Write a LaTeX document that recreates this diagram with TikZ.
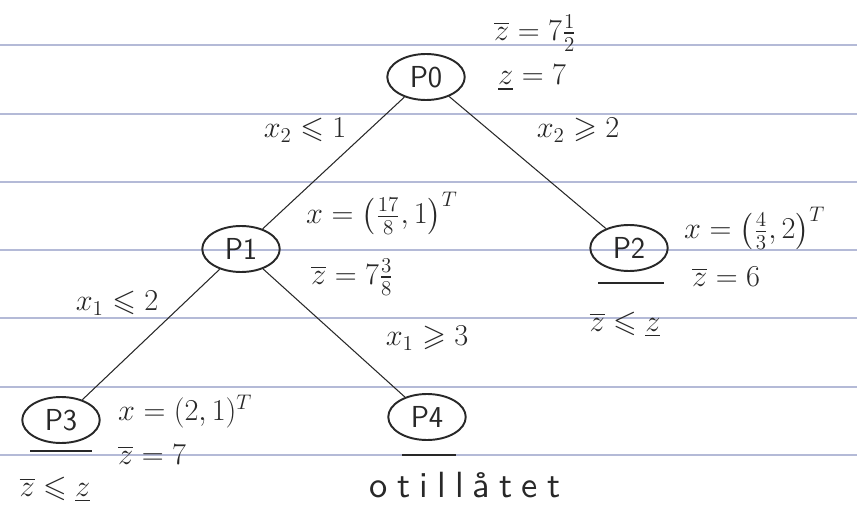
\documentclass[tikz,border=0pt]{standalone}
\usepackage{amsmath, amssymb}
\usepackage{fontspec}
\newfontfamily\spacedsans{lmsans10-regular.otf}[LetterSpace=25]
\usepackage{tikz}
\usetikzlibrary{shapes.geometric,calc}
\usepackage{xcolor}
\definecolor{rulegray}{RGB}{180,186,215}
\definecolor{pencil}{RGB}{40,40,40}

\begin{document}
\begin{tikzpicture}[x=0.02cm, y=-0.02cm, font=\LARGE, text=pencil,
    pnode/.style={ellipse, draw=pencil, line width=1.1pt,
      minimum width=1.55cm, minimum height=0.92cm, inner sep=0pt,
      font=\LARGE\sffamily},
    branch/.style={draw=pencil, line width=0.6pt},
    rule/.style={rulegray, line width=0.6pt},
    cutline/.style={pencil, line width=1.6pt}]
  \useasboundingbox (0,0) rectangle (857,513);
  % ruled paper
  \foreach \y in {45,114,182,250,318,387,455}
    \draw[rule] (0,\y) -- (857,\y);
  % subproblems
  \node[pnode] (P0) at (426,77) {P0};
  \node[pnode] (P1) at (241,249) {P1};
  \node[pnode] (P2) at (629,248) {P2};
  \node[pnode] (P3) at (61,420) {P3};
  \node[pnode] (P4) at (427,417) {P4};
  % branches
  \draw[branch] (P0) -- (P1);
  \draw[branch] (P0) -- (P2);
  \draw[branch] (P1) -- (P3);
  \draw[branch] (P1) -- (P4);
  % branching constraints
  \node (c01) at (305,130) {$x_2\leqslant 1$};
  \node (c02) at (578,130) {$x_2\geqslant 2$};
  \node (c13) at (117,303) {$x_1\leqslant 2$};
  \node (c14) at (427,338) {$x_1\geqslant 3$};
  % bounds and solutions
  \node[anchor=west] (zu0) at (488,33) {$\overline{z}=7\frac{1}{2}$};
  \node[anchor=west] (zl0) at (492,78) {$\underline{z}=7$};
  \node[anchor=west] (x1) at (300,213) {$x=\left(\frac{17}{8},1\right)^{T}$};
  \node[anchor=west] (zu1) at (305,277) {$\overline{z}=7\frac{3}{8}$};
  \node[anchor=west] (x2) at (678,228) {$x=\left(\frac{4}{3},2\right)^{T}$};
  \node[anchor=west] (zu2) at (686,277) {$\overline{z}=6$};
  \node[anchor=west] (x3) at (112,412) {$x=(2,1)^{T}$};
  \node[anchor=west] (zu3) at (112,455) {$\overline{z}=7$};
  % pruned nodes
  \draw[cutline] ($(P2.south)+(-31,11)$) -- ($(P2.south)+(35,11)$);
  \draw[cutline] ($(P3.south)+(-31,7)$) -- ($(P3.south)+(31,7)$);
  \draw[cutline] ($(P4.south)+(-25,14)$) -- ($(P4.south)+(29,14)$);
  \node (cut2) at (625,325) {$\overline{z}\leqslant\underline{z}$};
  \node (cut3) at (55,490) {$\overline{z}\leqslant\underline{z}$};
  \node[font=\huge\spacedsans] (inf4) at (465,485) {otillåtet};
\end{tikzpicture}
\end{document}
